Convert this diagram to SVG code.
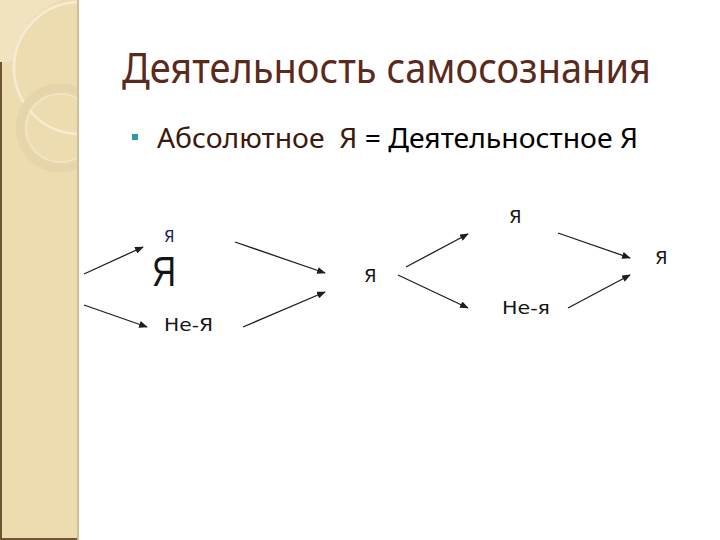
<svg xmlns="http://www.w3.org/2000/svg" width="720" height="540" viewBox="0 0 720 540">
  <defs>
    <clipPath id="stripClip"><rect x="0" y="0" width="78" height="540"/></clipPath>
    <marker id="ah" viewBox="0 0 10 8" refX="9" refY="4" markerWidth="9" markerHeight="7" markerUnits="userSpaceOnUse" orient="auto">
      <path d="M0,0 L10,4 L0,8 Z" fill="#1e1e1e"/>
    </marker>
  </defs>
  <style>
    .title { font-family: "Noto Sans", "Open Sans", sans-serif; font-size: 42px; fill: #5a2a1c; }
    .bullet { font-family: "Noto Sans", "Open Sans", sans-serif; font-size: 27px; }
    .lbl { font-family: "DejaVu Sans", "Liberation Sans", sans-serif; font-size: 18px; fill: #141414; }
    .arrow { stroke: #1e1e1e; stroke-width: 1.3; fill: none; marker-end: url(#ah); }
  </style>

  <rect x="0" y="0" width="720" height="540" fill="#ffffff"/>

  <!-- decorative side strip -->
  <g id="strip">
    <rect x="0" y="0" width="78" height="540" fill="#eedcb1"/>
    <g clip-path="url(#stripClip)">
      <path d="M0,0 L62,0 A66,66 0 0 0 16,62 L0,62 Z" fill="#f1e3bf"/>
      <circle cx="80" cy="68" r="66" fill="none" stroke="#f6ecd2" stroke-width="2.5"/>
      <circle cx="60" cy="128" r="40" fill="none" stroke="#e6d5aa" stroke-width="9"/>
      <circle cx="60" cy="128" r="34" fill="none" stroke="#f2e6c8" stroke-width="1.5"/>
    </g>
    <rect x="0" y="62" width="2" height="478" fill="#6e5434"/>
    <rect x="0" y="538" width="78" height="2" fill="#6e5434"/>
    <rect x="77" y="0" width="2" height="540" fill="#d2bd98"/>
  </g>

  <!-- title -->
  <g id="title">
    <text class="title" x="122" y="83" textLength="529" lengthAdjust="spacingAndGlyphs">Деятельность самосознания</text>
  </g>

  <!-- bullet -->
  <g id="bullet">
    <rect x="132" y="134" width="6" height="6" fill="#2f9aa2"/>
    <text class="bullet" x="157" y="148" textLength="481" lengthAdjust="spacingAndGlyphs" xml:space="preserve"><tspan fill="#3c1a0e">Абсолютное  Я </tspan><tspan fill="#000000">= Деятельностное Я</tspan></text>
  </g>

  <!-- connectors -->
  <g id="connectors">
    <line class="arrow" x1="84" y1="274" x2="143" y2="247"/>
    <line class="arrow" x1="84" y1="305" x2="147" y2="327"/>
    <line class="arrow" x1="235" y1="242" x2="325" y2="273"/>
    <line class="arrow" x1="243" y1="327" x2="325" y2="292"/>
    <line class="arrow" x1="406" y1="267" x2="468" y2="234"/>
    <line class="arrow" x1="398" y1="275" x2="468" y2="308"/>
    <line class="arrow" x1="558" y1="233" x2="630" y2="258"/>
    <line class="arrow" x1="568" y1="308" x2="630" y2="275"/>
  </g>

  <!-- nodes -->
  <g id="node-ya-small">
    <text class="lbl" x="164" y="242" style="font-size:15px; fill:#1b1b55">Я</text>
  </g>
  <g id="node-ya-big">
    <text x="152" y="286" style="font-family:'Liberation Sans', Arial, sans-serif; font-size:43px; fill:#141414" textLength="24" lengthAdjust="spacingAndGlyphs">Я</text>
  </g>
  <g id="node-ne-ya-left">
    <text class="lbl" x="164" y="331" textLength="49" lengthAdjust="spacingAndGlyphs">Не-Я</text>
  </g>
  <g id="node-ya-mid">
    <text class="lbl" x="364" y="282">Я</text>
  </g>
  <g id="node-ya-top">
    <text class="lbl" x="509" y="223">Я</text>
  </g>
  <g id="node-ne-ya-right">
    <text class="lbl" x="502" y="314" textLength="48" lengthAdjust="spacingAndGlyphs">Не-я</text>
  </g>
  <g id="node-ya-right">
    <text class="lbl" x="655" y="264">Я</text>
  </g>
</svg>
